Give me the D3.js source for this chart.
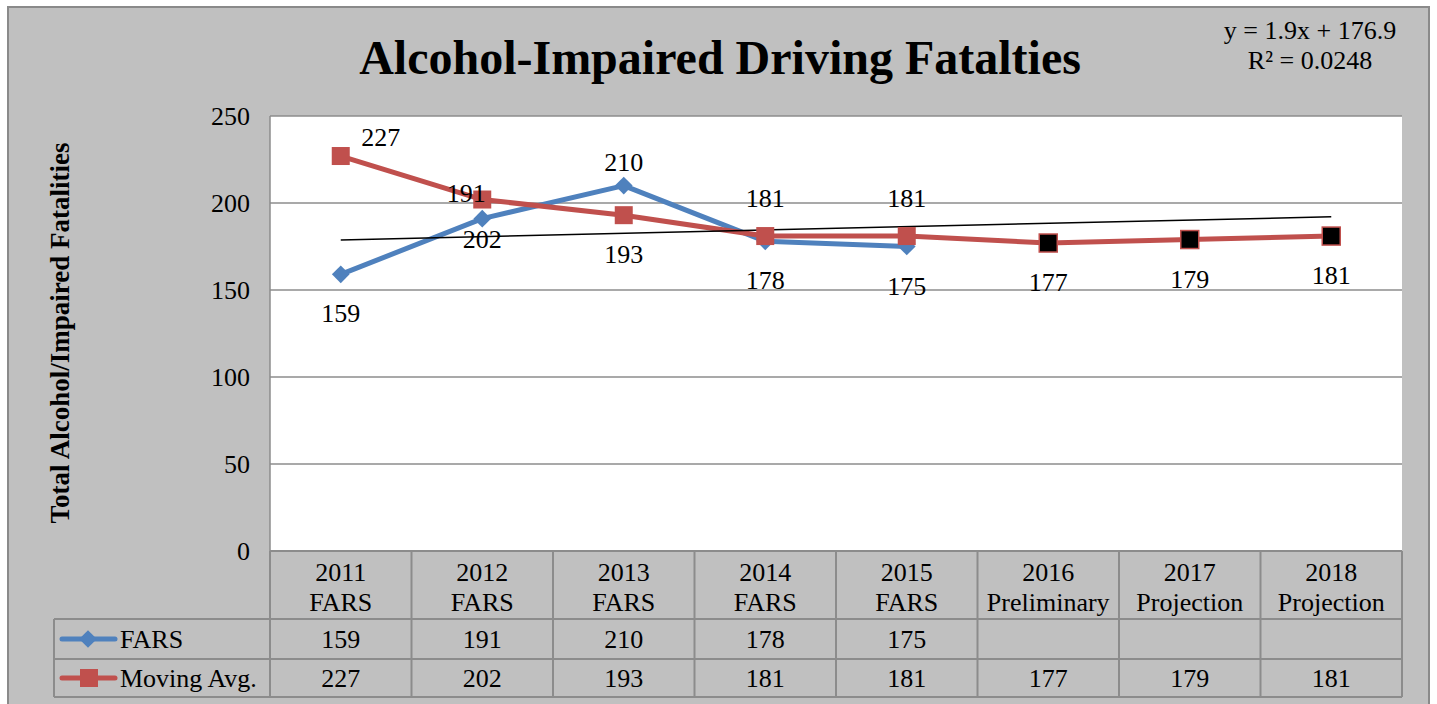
<!DOCTYPE html>
<html>
<head>
<meta charset="utf-8">
<script src="https://cdn.jsdelivr.net/npm/d3@7"></script>
<style>
  body { margin: 0; background: #fff; }
  text { font-family: "Liberation Serif", "Times New Roman", serif; fill: #000; }
</style>
</head>
<body>
<svg id="chart" width="1437" height="704"></svg>
<script>
const years = ["2011", "2012", "2013", "2014", "2015", "2016", "2017", "2018"];
const sources = ["FARS", "FARS", "FARS", "FARS", "FARS", "Preliminary", "Projection", "Projection"];
const fars = [159, 191, 210, 178, 175, null, null, null];
const movingAvg = [227, 202, 193, 181, 181, 177, 179, 181];
const projected = [false, false, false, false, false, true, true, true];
const yTicks = [0, 50, 100, 150, 200, 250];
const trend = { slope: 1.9, intercept: 176.9, r2: "0.0248" };
// label placement per point
const farsLabelPos = ["b", "al", "a", "b", "b"];
const avgLabelPos = ["ar", "b", "b", "a2", "a2", "b", "b", "b"];

const blue = "#4F81BD", red = "#C0504D", grid = "#8c8c8c";
const fs = 26;
const svg = d3.select("#chart");
const plot = { left: 270, right: 1402, top: 116, bottom: 551 };

svg.append("rect").attr("x", 8).attr("y", 7).attr("width", 1421).attr("height", 710)
  .attr("fill", "#C0C0C0").attr("stroke", "#8a8a8a").attr("stroke-width", 2);

const x = d3.scaleBand().domain(d3.range(years.length)).range([plot.left, plot.right]);
const cx = i => x(i) + x.bandwidth() / 2;
const y = d3.scaleLinear().domain([0, 250]).range([plot.bottom, plot.top]);

// plot area
svg.append("rect").attr("x", plot.left).attr("y", plot.top)
  .attr("width", plot.right - plot.left).attr("height", plot.bottom - plot.top)
  .attr("fill", "#fff");

svg.append("g").selectAll("line").data(yTicks).join("line")
  .attr("x1", plot.left).attr("x2", plot.right)
  .attr("y1", d => y(d)).attr("y2", d => y(d))
  .attr("stroke", grid).attr("stroke-width", 1.5);
svg.append("line").attr("x1", plot.left).attr("x2", plot.left)
  .attr("y1", plot.top).attr("y2", plot.bottom).attr("stroke", grid).attr("stroke-width", 1.5);

svg.append("g").selectAll("text").data(yTicks).join("text")
  .attr("x", 250).attr("y", d => y(d) + 9)
  .attr("text-anchor", "end").attr("font-size", fs).text(d => d);

// titles
svg.append("text").attr("x", 720).attr("y", 74).attr("text-anchor", "middle")
  .attr("font-size", 48).attr("font-weight", "bold").text("Alcohol-Impaired Driving Fatalties");
svg.append("text").attr("transform", "translate(69,333) rotate(-90)").attr("text-anchor", "middle")
  .attr("font-size", 27).attr("font-weight", "bold").text("Total Alcohol/Impaired Fatalities");
svg.append("text").attr("x", 1310).attr("y", 39).attr("text-anchor", "middle")
  .attr("font-size", fs).text(`y = ${trend.slope}x + ${trend.intercept}`);
svg.append("text").attr("x", 1310).attr("y", 69).attr("text-anchor", "middle")
  .attr("font-size", fs).text(`R² = ${trend.r2}`);

// series lines
const line = d3.line().x(d => cx(d.i)).y(d => y(d.v));
const farsPts = fars.map((v, i) => ({ v, i })).filter(d => d.v != null);
const avgPts = movingAvg.map((v, i) => ({ v, i }));

svg.append("path").datum(farsPts).attr("d", line)
  .attr("fill", "none").attr("stroke", blue).attr("stroke-width", 5).attr("stroke-linejoin", "round");
svg.append("path").datum(avgPts).attr("d", line)
  .attr("fill", "none").attr("stroke", red).attr("stroke-width", 5).attr("stroke-linejoin", "round");

// trendline over positions 1..n
const n = years.length;
svg.append("line")
  .attr("x1", cx(0)).attr("y1", y(trend.slope * 1 + trend.intercept))
  .attr("x2", cx(n - 1)).attr("y2", y(trend.slope * n + trend.intercept))
  .attr("stroke", "#000").attr("stroke-width", 1.5);

const diamond = d3.symbol().type(d3.symbolDiamond2).size(200);
svg.append("g").selectAll("path").data(farsPts).join("path")
  .attr("d", diamond).attr("transform", d => `translate(${cx(d.i)},${y(d.v)})`)
  .attr("fill", blue);
svg.append("g").selectAll("rect").data(avgPts).join("rect")
  .attr("x", d => cx(d.i) - 9).attr("y", d => y(d.v) - 9)
  .attr("width", 18).attr("height", 18)
  .attr("fill", d => projected[d.i] ? "#000" : red)
  .attr("stroke", d => projected[d.i] ? red : "none").attr("stroke-width", 1.5);

// data labels
const off = { a: [0, -15], a2: [0, -29], b: [0, 48], ar: [40, -10], al: [-16, -17] };
function labels(pts, pos) {
  svg.append("g").selectAll("text").data(pts).join("text")
    .attr("x", d => cx(d.i) + off[pos[d.i]][0])
    .attr("y", d => y(d.v) + off[pos[d.i]][1])
    .attr("text-anchor", "middle").attr("font-size", fs).text(d => d.v);
}
labels(farsPts, farsLabelPos);
labels(avgPts, avgLabelPos);

// data table
const rowY = [551, 619, 659, 697];
const legendLeft = 54;
const tbl = svg.append("g").attr("stroke", grid).attr("stroke-width", 2);
tbl.selectAll(".h").data(rowY).join("line")
  .attr("x1", (d, i) => i < 1 ? plot.left : legendLeft).attr("x2", plot.right)
  .attr("y1", d => d).attr("y2", d => d);
tbl.selectAll(".v").data(d3.range(n + 1)).join("line")
  .attr("x1", i => plot.left + i * x.step()).attr("x2", i => plot.left + i * x.step())
  .attr("y1", rowY[0]).attr("y2", rowY[3]);
tbl.append("line").attr("x1", legendLeft).attr("x2", legendLeft)
  .attr("y1", rowY[1]).attr("y2", rowY[3]);

svg.append("g").selectAll("text").data(years).join("text")
  .attr("x", (d, i) => cx(i)).attr("y", 581).attr("text-anchor", "middle")
  .attr("font-size", fs).text(d => d);
svg.append("g").selectAll("text").data(sources).join("text")
  .attr("x", (d, i) => cx(i)).attr("y", 611).attr("text-anchor", "middle")
  .attr("font-size", fs).text(d => d);

const rows = [
  { name: "FARS", vals: fars, color: blue, marker: "diamond" },
  { name: "Moving Avg.", vals: movingAvg, color: red, marker: "square" }
];
rows.forEach((r, ri) => {
  const mid = (rowY[ri + 1] + rowY[ri + 2]) / 2;
  svg.append("line").attr("x1", 62).attr("x2", 115).attr("y1", mid).attr("y2", mid)
    .attr("stroke", r.color).attr("stroke-width", 5).attr("stroke-linecap", "round");
  if (r.marker === "diamond") {
    svg.append("path").attr("d", diamond).attr("transform", `translate(88,${mid})`).attr("fill", r.color);
  } else {
    svg.append("rect").attr("x", 80).attr("y", mid - 9).attr("width", 18).attr("height", 18).attr("fill", r.color);
  }
  svg.append("text").attr("x", 120).attr("y", mid + 9).attr("font-size", fs).text(r.name);
  svg.append("g").selectAll("text").data(r.vals).join("text")
    .attr("x", (d, i) => cx(i)).attr("y", mid + 9).attr("text-anchor", "middle")
    .attr("font-size", fs).text(d => d == null ? "" : d);
});
</script>
</body>
</html>
